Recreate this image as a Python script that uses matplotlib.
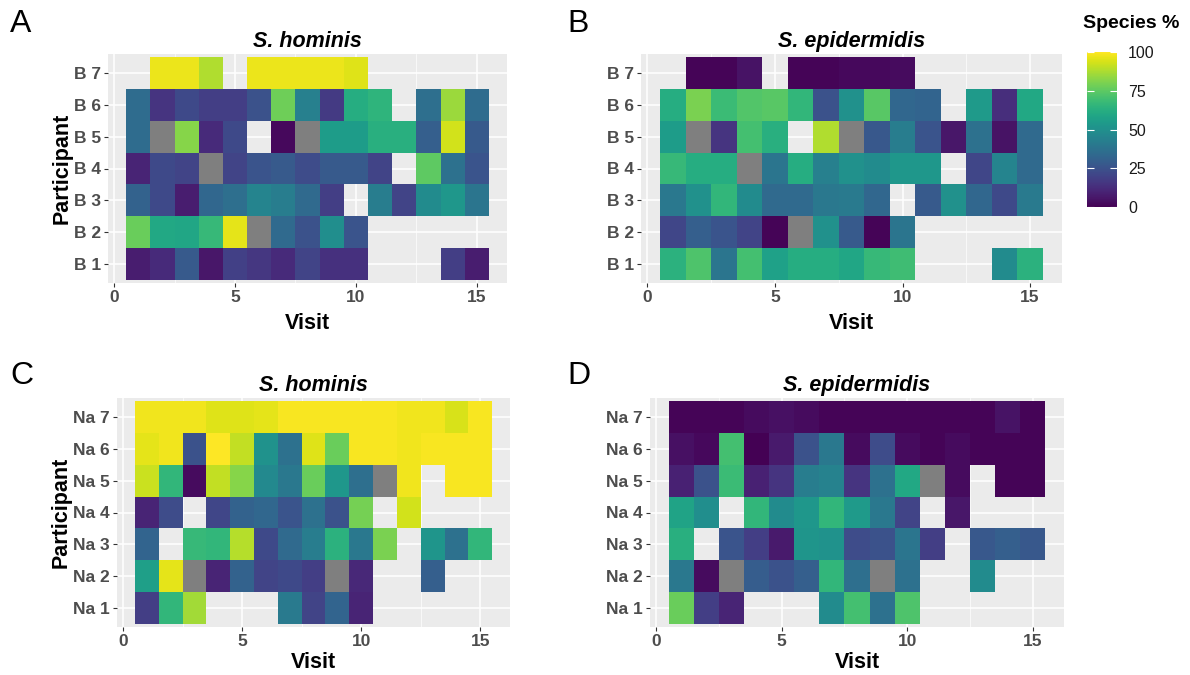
import numpy as np
import matplotlib
matplotlib.use('Agg')
import matplotlib.pyplot as plt

NO = np.nan   # no sample -> nothing drawn
NA = -1       # sample without value -> grey tile

visits = list(range(1, 16))
b_labels = ['B 1', 'B 2', 'B 3', 'B 4', 'B 5', 'B 6', 'B 7']
na_labels = ['Na 1', 'Na 2', 'Na 3', 'Na 4', 'Na 5', 'Na 6', 'Na 7']
species = ['S. hominis', 'S. epidermidis']

# rows listed from participant 7 (top) down to participant 1
b_hominis = [
    [NO, 97, 97, 88, NO, 97, 97, 97, 97, 95, NO, NO, NO, NO, NO],
    [35, 15, 22, 18, 18, 25, 78, 43, 17, 62, 65, NO, 36, 85, 35],
    [35, NA, 82, 12, 22, NO, 2, NA, 55, 55, 63, 63, 30, 93, 28],
    [10, 22, 20, NA, 20, 26, 28, 23, 28, 28, 20, NO, 75, 37, 26],
    [31, 22, 8, 33, 36, 45, 42, 34, 18, NO, 42, 20, 48, 53, 39],
    [77, 60, 59, 67, 96, NA, 34, 25, 49, 26, NO, NO, NO, NO, NO],
    [8, 12, 28, 6, 19, 16, 12, 20, 14, 14, NO, NO, NO, 18, 8],
]
b_epidermidis = [
    [NO, 1, 1, 5, NO, 1, 1, 2, 2, 3, NO, NO, NO, NO, NO],
    [62, 80, 68, 73, 74, 66, 25, 50, 74, 33, 32, NO, 54, 13, 60],
    [55, NA, 15, 70, 63, NO, 88, NA, 27, 42, 26, 6, 37, 5, 34],
    [67, 62, 62, NA, 39, 62, 43, 50, 48, 53, 53, NO, 21, 45, 34],
    [40, 50, 66, 48, 34, 34, 40, 41, 33, NO, 28, 50, 33, 22, 41],
    [21, 30, 26, 20, 1, NA, 50, 28, 1, 39, NO, NO, NO, NO, NO],
    [64, 72, 39, 70, 57, 62, 62, 59, 67, 69, NO, NO, NO, 48, 64],
]
na_hominis = [
    [98, 98, 98, 95, 95, 96, 99, 99, 99, 99, 99, 98, 98, 94, 99],
    [96, 98, 25, 100, 91, 51, 37, 95, 77, 99, 99, 98, 99, 99, 99],
    [92, 66, 3, 91, 82, 47, 40, 77, 53, 36, NA, 98, NO, 99, 99],
    [10, 23, NO, 21, 31, 33, 26, 37, 25, 79, NO, 93, NO, NO, NO],
    [32, NO, 67, 66, 89, 22, 34, 42, 64, 40, 80, NO, 52, 37, 66],
    [56, 96, NA, 10, 31, 20, 22, 18, NA, 11, NO, NO, 30, NO, NO],
    [18, 66, 86, NO, NO, NO, 41, 20, 32, 10, NO, NO, NO, NO, NO],
]
na_epidermidis = [
    [1, 1, 1, 3, 4, 3, 1, 1, 1, 1, 1, 1, 1, 5, 1],
    [4, 2, 70, 0, 7, 25, 40, 3, 23, 3, 1, 3, 1, 1, 1],
    [9, 25, 68, 9, 15, 42, 44, 15, 37, 60, NA, 3, NO, 1, 1],
    [58, 49, NO, 66, 48, 53, 66, 54, 40, 20, NO, 6, NO, NO, NO],
    [63, NO, 26, 18, 7, 52, 51, 23, 25, 39, 18, NO, 27, 30, 27],
    [40, 3, NA, 29, 25, 30, 66, 36, NA, 37, NO, NO, 48, NO, NO],
    [77, 18, 10, NO, NO, NO, 48, 70, 37, 72, NO, NO, NO, NO, NO],
]

W, H = 1190, 675
fig = plt.figure(figsize=(W / 100, H / 100), dpi=100)
plt.rcParams['font.family'] = ['Liberation Sans', 'DejaVu Sans']

cmap = plt.get_cmap('viridis').copy()
cmap.set_under('#7F7F7F')
cmap.set_bad((0, 0, 0, 0))

def px_axes(left, top, right, bottom):
    return fig.add_axes([left / W, 1 - bottom / H, (right - left) / W, (bottom - top) / H])

# letter, letter position (px), panel box (left, top, right, bottom px), data, labels, title,
# y title shown, x title pad
panels = [
    ('A', (10, 24), (108, 54, 507, 283), b_hominis, b_labels, species[0], True, 5.5),
    ('B', (567, 24), (641, 54, 1062, 283), b_epidermidis, b_labels, species[1], False, 5.5),
    ('C', (10, 376), (117, 398, 510, 627), na_hominis, na_labels, species[0], True, 2.5),
    ('D', (567, 376), (650, 398, 1064, 627), na_epidermidis, na_labels, species[1], False, 2.5),
]

mesh = None
for letter, lpos, box, values, ylabels, title, show_ylab, xpad in panels:
    ax = px_axes(*box)
    ax.set_facecolor('#EBEBEB')
    z = np.array(values, dtype=float)[::-1]
    xe = np.arange(0.5, 16.5, 1)
    ye = np.arange(0.5, 8.5, 1)
    mesh = ax.pcolormesh(xe, ye, np.ma.masked_invalid(z), cmap=cmap, vmin=0, vmax=100, zorder=2)
    ax.set_xlim(-0.25, 16.25)
    ax.set_ylim(0.4, 7.6)
    ax.set_xticks([0, 5, 10, 15])
    ax.set_xticks([2.5, 7.5, 12.5], minor=True)
    ax.set_yticks(range(1, 8))
    ax.set_yticklabels(ylabels)
    ax.grid(True, which='major', color='white', lw=1.1, zorder=0)
    ax.grid(True, which='minor', axis='x', color='white', lw=0.5, zorder=0)
    ax.set_axisbelow(True)
    for s in ax.spines.values():
        s.set_visible(False)
    ax.tick_params(which='major', length=3, color='#333333', labelcolor='#4D4D4D',
                   labelsize=12.5, pad=2)
    ax.tick_params(which='minor', length=0)
    for lab in ax.get_xticklabels() + ax.get_yticklabels():
        lab.set_fontweight('bold')
    ax.set_xlabel('Visit', fontsize=15.5, fontweight='bold', labelpad=xpad)
    if show_ylab:
        ax.set_ylabel('Participant', fontsize=15.5, fontweight='bold', labelpad=1)
    ax.set_title(title, fontsize=15.5, fontweight='bold', fontstyle='italic', pad=5)
    fig.text(lpos[0] / W, 1 - lpos[1] / H, letter, fontsize=23, ha='left', va='center')

cax = px_axes(1087, 52, 1117, 207)
cb = fig.colorbar(mesh, cax=cax, ticks=[0, 25, 50, 75, 100])
cb.outline.set_visible(False)
cax.tick_params(direction='in', color='white', length=5, width=0.8, left=True, right=True,
                labelsize=11.5, labelcolor='#1a1a1a', pad=8)
fig.text(1131 / W, 1 - 24 / H, 'Species %', fontsize=14, fontweight='bold', ha='center', va='center')

fig.savefig('out.png', dpi=100)
